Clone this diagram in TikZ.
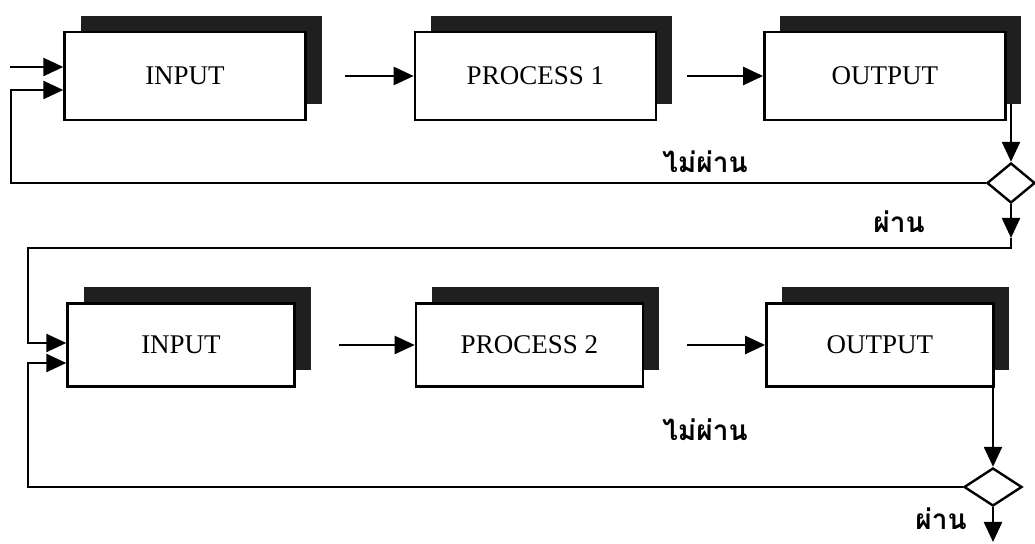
\documentclass[tikz,border=0pt]{standalone}
\usepackage{fontspec}
\setmainfont{Liberation Serif}
\newfontfamily\thaifont[Script=Thai]{Loma}
\usetikzlibrary{arrows.meta,positioning,shapes.geometric,shadows}

\begin{document}
\begin{tikzpicture}[x=0.5pt,y=-0.5pt,>={Triangle[length=10pt,width=9pt]},line width=1.2pt,
  box/.style={draw,fill=white,minimum width=120.5pt,minimum height=44pt,font=\fontsize{13.5}{16}\selectfont,general shadow={fill=black!88,shadow xshift=8pt,shadow yshift=8pt}},
  boxtwo/.style={box,minimum width=113.5pt,minimum height=41.5pt},
  decision/.style={draw,diamond,fill=white,inner sep=0pt,minimum width=24pt,minimum height=20pt},
  verdict/.style={font=\thaifont\bfseries\fontsize{14}{16}\selectfont,anchor=base,inner sep=0pt}]
\useasboundingbox (0,0) rectangle (1035,544);
% first round
\node[box] (in1) at (185,76) {INPUT};
\node[box,right=53.5pt of in1] (p1) {PROCESS 1};
\node[box,right=53pt of p1] (o1) {OUTPUT};
\node[decision] (d1) at (1011,183) {};
% second round
\node[boxtwo] (in2) at (181,345) {INPUT};
\node[boxtwo,right=59.5pt of in2] (p2) {PROCESS 2};
\node[boxtwo,right=60.5pt of p2] (o2) {OUTPUT};
\node[decision,minimum width=29pt,minimum height=19pt] (d2) at (993,487) {};
% labels
\node[verdict] (fail1) at (705,173) {ไม่ผ่าน};
\node[verdict] (pass1) at (899,233) {ผ่าน};
\node[verdict] (fail2) at (705,441) {ไม่ผ่าน};
\node[verdict] (pass2) at (941,530) {ผ่าน};
\coordinate (src) at (10,67);
\coordinate (left1) at (11,0);
\coordinate (left2) at (28,0);
\coordinate (o1out) at (1011,104);
\coordinate (turn1) at (1011,248);
\coordinate (o2out) at (993,377);
\coordinate (end2) at (993,542);
\draw[->] (src) -- (src -| in1.west);
\draw[->] ([xshift=19pt]in1.east) -- (p1.west);
\draw[->] ([xshift=15pt]p1.east) -- (o1.west);
\draw[->] (o1out) -- (d1.north);
\draw[->] (d1.west) -- (d1.west -| left1) |- ([yshift=-7pt]in1.west);
\draw[->] (d1.south) -- ([yshift=5pt]turn1);
\draw[->] ([yshift=5pt]turn1) -- (turn1) -- (turn1 -| left2) |- ([yshift=1pt]in2.west);
\draw[->] ([xshift=21.5pt]in2.east) -- (p2.west);
\draw[->] ([xshift=21.5pt]p2.east) -- (o2.west);
\draw[->] (o2out) -- (d2.north);
\draw[->] (d2.west) -- (d2.west -| left2) |- ([yshift=-9pt]in2.west);
\draw[->] (d2.south) -- (end2);
\end{tikzpicture}
\end{document}
